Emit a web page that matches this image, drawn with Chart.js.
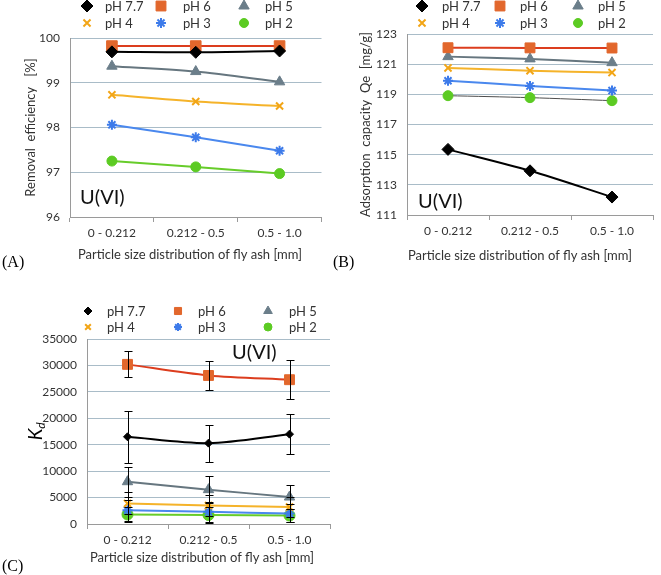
<!DOCTYPE html>
<html><head><meta charset="utf-8">
<script src="https://cdn.jsdelivr.net/npm/chart.js@4/dist/chart.umd.min.js"></script>
<style>
html,body{margin:0;padding:0;background:#fff;}
#wrap{position:relative;width:661px;height:575px;overflow:hidden;background:#fff;}
canvas{position:absolute;}
.lbl{position:absolute;font-family:"Liberation Serif","DejaVu Serif",serif;font-size:16px;color:#000;line-height:18px;}
</style></head><body>
<div id="wrap">
<canvas id="cA" width="330" height="272" style="left:0px;top:0px;width:330px;height:272px"></canvas>
<canvas id="cB" width="331" height="272" style="left:330px;top:0px;width:331px;height:272px"></canvas>
<canvas id="cC" width="340" height="285" style="left:0px;top:290px;width:340px;height:285px"></canvas>
<div class="lbl" style="left:2px;top:253px">(A)</div>
<div class="lbl" style="left:333px;top:253px">(B)</div>
<div class="lbl" style="left:2px;top:557px">(C)</div>
</div>
<script>
// ---------- DATA ----------
const categories = ['0 - 0.212', '0.212 - 0.5', '0.5 - 1.0'];
const seriesLabels = ['pH 7.7', 'pH 6', 'pH 5', 'pH 4', 'pH 3', 'pH 2'];

// (A) Removal efficiency [%]
const removal_pH77 = [99.69, 99.68, 99.71];
const removal_pH6  = [99.82, 99.82, 99.82];
const removal_pH5  = [99.37, 99.25, 99.02];
const removal_pH4  = [98.73, 98.58, 98.48];
const removal_pH3  = [98.06, 97.78, 97.48];
const removal_pH2  = [97.25, 97.12, 96.97];
const removalTicks = [96, 97, 98, 99, 100];

// (B) Adsorption capacity Qe [mg/g]
const qe_pH77 = [115.35, 113.93, 112.19];
const qe_pH6  = [122.09, 122.08, 122.07];
const qe_pH5  = [121.50, 121.35, 121.10];
const qe_pH4  = [120.75, 120.57, 120.44];
const qe_pH3  = [119.90, 119.56, 119.25];
const qe_pH2  = [118.91, 118.78, 118.58];
const qeTicks = [111, 113, 115, 117, 119, 121, 123];

// (C) Kd with error bars
const kd_pH77 = [16500, 15300, 17000];
const kd_pH6  = [30200, 28100, 27300];
const kd_pH5  = [8000, 6500, 5100];
const kd_pH4  = [3900, 3500, 3200];
const kd_pH3  = [2600, 2300, 2000];
const kd_pH2  = [1800, 1700, 1600];
const kdErr_pH77 = [4900, 3500, 3750];
const kdErr_pH6  = [2450, 2750, 3700];
const kdErr_pH5  = [2800, 2600, 2350];
const kdErr_pH4  = [2100, 2000, 1900];
const kdErr_pH3  = [2000, 1900, 1700];
const kdErr_pH2  = [1400, 1500, 1300];
const kdTicks = [0, 5000, 10000, 15000, 20000, 25000, 30000, 35000];

// ---------- STYLE ----------
const FONT = 'Lato, "Liberation Sans", sans-serif';
const TXT = '#333333';
const styles = [
  {marker:'#000000', line:'#000000', shape:'rectRot'},
  {marker:'#E2672C', line:'#DC3D1E', shape:'rect'},
  {marker:'#6B7E8A', line:'#66767F', shape:'triangle'},
  {marker:'#F2A516', line:'#F5B32A', shape:'crossRot'},
  {marker:'#3D7BEA', line:'#4A88EE', shape:'star'},
  {marker:'#5CCB23', line:'#67CC2A', shape:'circle'}
];

function drawShape(ctx, style, r, x, y, bw){
  if (Chart.helpers && Chart.helpers.drawPoint) {
    Chart.helpers.drawPoint(ctx, {pointStyle: style, radius: r, rotation: 0, borderWidth: bw}, x, y);
  } else {
    ctx.beginPath(); ctx.arc(x, y, r, 0, Math.PI*2); ctx.fill();
  }
}

const decor = {
  id: 'decor',
  afterDatasetsDraw(chart, args, o) {
    if (!o.errors) return;
    const ctx = chart.ctx, ys = chart.scales.y;
    ctx.save(); ctx.strokeStyle = '#000'; ctx.lineWidth = 1;
    o.errors.forEach((errs, i) => {
      if (!errs) return;
      const meta = chart.getDatasetMeta(i);
      const vals = chart.data.datasets[i].data;
      meta.data.forEach((pt, j) => {
        const x = Math.round(pt.x) + 0.5;
        const yt = Math.round(ys.getPixelForValue(vals[j] + errs[j])) + 0.5;
        const yb = Math.round(ys.getPixelForValue(vals[j] - errs[j])) + 0.5;
        ctx.beginPath();
        ctx.moveTo(x, yt); ctx.lineTo(x, yb);
        ctx.moveTo(x - 4, yt); ctx.lineTo(x + 4, yt);
        ctx.moveTo(x - 4, yb); ctx.lineTo(x + 4, yb);
        ctx.stroke();
      });
    });
    ctx.restore();
  },
  afterDraw(chart, args, o) {
    const ctx = chart.ctx, ca = chart.chartArea;
    ctx.save();
    // legend
    const L = o.legend;
    chart.data.datasets.forEach((ds, i) => {
      const c = i % 3, r = Math.floor(i / 3);
      const x = L.sym[c], y = L.rows[r];
      ctx.fillStyle = ds.pointBackgroundColor; ctx.strokeStyle = ds.pointBorderColor;
      ctx.lineWidth = ds.pointBorderWidth;
      drawShape(ctx, ds.pointStyle, L.radii[i], x, y, ds.pointBorderWidth);
      ctx.fillStyle = TXT; ctx.font = L.font; ctx.textBaseline = 'middle'; ctx.textAlign = 'left';
      ctx.fillText(ds.label, L.txt[c], y + 0.5);
    });
    // x title
    ctx.fillStyle = TXT; ctx.font = o.xTitle.font; ctx.textAlign = 'center'; ctx.textBaseline = 'middle';
    ctx.fillText(o.xTitle.text, o.xTitle.x, o.xTitle.y);
    // y title
    const cy = (ca.top + ca.bottom) / 2;
    ctx.save();
    ctx.translate(o.yTitle.x, cy);
    ctx.rotate(-Math.PI / 2);
    if (o.yTitle.kd) {
      ctx.fillStyle = '#000';
      ctx.font = 'italic 19px ' + FONT;
      ctx.textAlign = 'left'; ctx.textBaseline = 'middle';
      const w = ctx.measureText('K').width;
      ctx.fillText('K', -(w + 6) / 2, 0);
      ctx.font = 'italic 12px ' + FONT;
      ctx.fillText('d', -(w + 6) / 2 + w, 5);
    } else {
      ctx.font = o.yTitle.font; ctx.textAlign = 'center'; ctx.textBaseline = 'middle';
      ctx.fillText(o.yTitle.text, 0, 0);
    }
    ctx.restore();
    // annotation
    ctx.fillStyle = '#111'; ctx.font = '20px ' + FONT; ctx.textAlign = 'left'; ctx.textBaseline = 'middle';
    ctx.fillText('U(VI)', o.note.x, o.note.y);
    ctx.restore();
  }
};

function makeChart(id, W, H, area, series, ticks, radii, opt) {
  const datasets = series.map((d, i) => {
    const st = styles[i];
    const cross = (st.shape === 'crossRot' || st.shape === 'star');
    return {
      label: seriesLabels[i], data: d,
      borderColor: (opt.lineColors && opt.lineColors[i]) || st.line,
      borderWidth: (opt.lineWidths && opt.lineWidths[i]) || 2,
      backgroundColor: st.marker,
      pointStyle: st.shape,
      pointRadius: radii[i],
      pointHoverRadius: radii[i],
      pointBackgroundColor: st.marker,
      pointBorderColor: st.marker,
      pointBorderWidth: cross ? 2 : 1,
      tension: 0.3,
      fill: false,
      clip: false
    };
  });
  return new Chart(document.getElementById(id), {
    type: 'line',
    data: { labels: categories, datasets: datasets },
    plugins: [decor],
    options: {
      responsive: false, animation: false, devicePixelRatio: 1,
      layout: { padding: { left: 0, top: area.top, right: W - area.right, bottom: 0 } },
      plugins: {
        legend: { display: false }, tooltip: { enabled: false },
        decor: opt.decor
      },
      scales: {
        x: {
          type: 'category', offset: true,
          grid: { display: true, drawOnChartArea: false, drawTicks: true, tickLength: 5, offset: true, color: '#9a9a9a' },
          border: { display: true, color: '#9a9a9a', width: 1 },
          ticks: { color: TXT, font: { family: FONT, size: 12 }, padding: 4, maxRotation: 0, autoSkip: false },
          afterFit: s => { s.height = H - area.bottom; }
        },
        y: {
          min: ticks[0], max: ticks[ticks.length - 1], stepSize: ticks[1] - ticks[0],
          afterBuildTicks: s => { s.ticks = ticks.map(v => ({ value: v })); },
          grid: { color: '#A9BCC8', drawTicks: false, lineWidth: 1 },
          border: { display: true, color: '#9a9a9a', width: 1 },
          ticks: { color: TXT, font: { family: FONT, size: 12 }, padding: 10, callback: v => String(v) },
          afterFit: s => { s.width = area.left; }
        }
      }
    }
  });
}

const legendFont = '13px ' + FONT;

makeChart('cA', 330, 272, {left: 70, right: 325, top: 38, bottom: 217},
  [removal_pH77, removal_pH6, removal_pH5, removal_pH4, removal_pH3, removal_pH2],
  removalTicks, [6, 7.5, 6, 5, 5, 5], {
    decor: {
      legend: {sym: [87, 161, 244], txt: [105, 183, 265], rows: [6, 23], radii: [6, 7, 6, 5, 5, 4.5], font: legendFont},
      xTitle: {text: 'Particle size distribution of fly ash [mm]', x: 190, y: 255, font: '13px ' + FONT},
      yTitle: {text: 'Removal  efficiency   [%]', x: 31, font: '13px ' + FONT},
      note: {x: 80, y: 198}
    }
  });

makeChart('cB', 331, 272, {left: 77, right: 325, top: 34, bottom: 215},
  [qe_pH77, qe_pH6, qe_pH5, qe_pH4, qe_pH3, qe_pH2],
  qeTicks, [6, 7, 6, 5, 5, 5], {
    lineColors: [null, null, null, null, null, '#4d4d4d'],
    lineWidths: [null, null, null, null, null, 1],
    decor: {
      legend: {sym: [92, 170, 248], txt: [112, 190, 268], rows: [6, 23], radii: [6, 7, 6, 5, 5, 4.5], font: legendFont},
      xTitle: {text: 'Particle size distribution of fly ash [mm]', x: 190, y: 256, font: '13px ' + FONT},
      yTitle: {text: 'Adsorption  capacity  Qe  [mg/g]', x: 36, font: '13px ' + FONT},
      note: {x: 88, y: 202}
    }
  });

makeChart('cC', 340, 285, {left: 87, right: 330, top: 49, bottom: 234},
  [kd_pH77, kd_pH6, kd_pH5, kd_pH4, kd_pH3, kd_pH2],
  kdTicks, [4, 7, 6, 5, 5, 5.5], {
    decor: {
      errors: [kdErr_pH77, kdErr_pH6, kdErr_pH5, kdErr_pH4, kdErr_pH3, kdErr_pH2],
      legend: {sym: [88, 178, 268], txt: [107, 198, 289], rows: [21, 37], radii: [4, 5, 5, 4, 4, 4], font: legendFont},
      xTitle: {text: 'Particle size distribution of fly ash [mm]', x: 202, y: 268, font: '13px ' + FONT},
      yTitle: {kd: true, x: 36},
      note: {x: 232, y: 63}
    }
  });
</script>
</body></html>
